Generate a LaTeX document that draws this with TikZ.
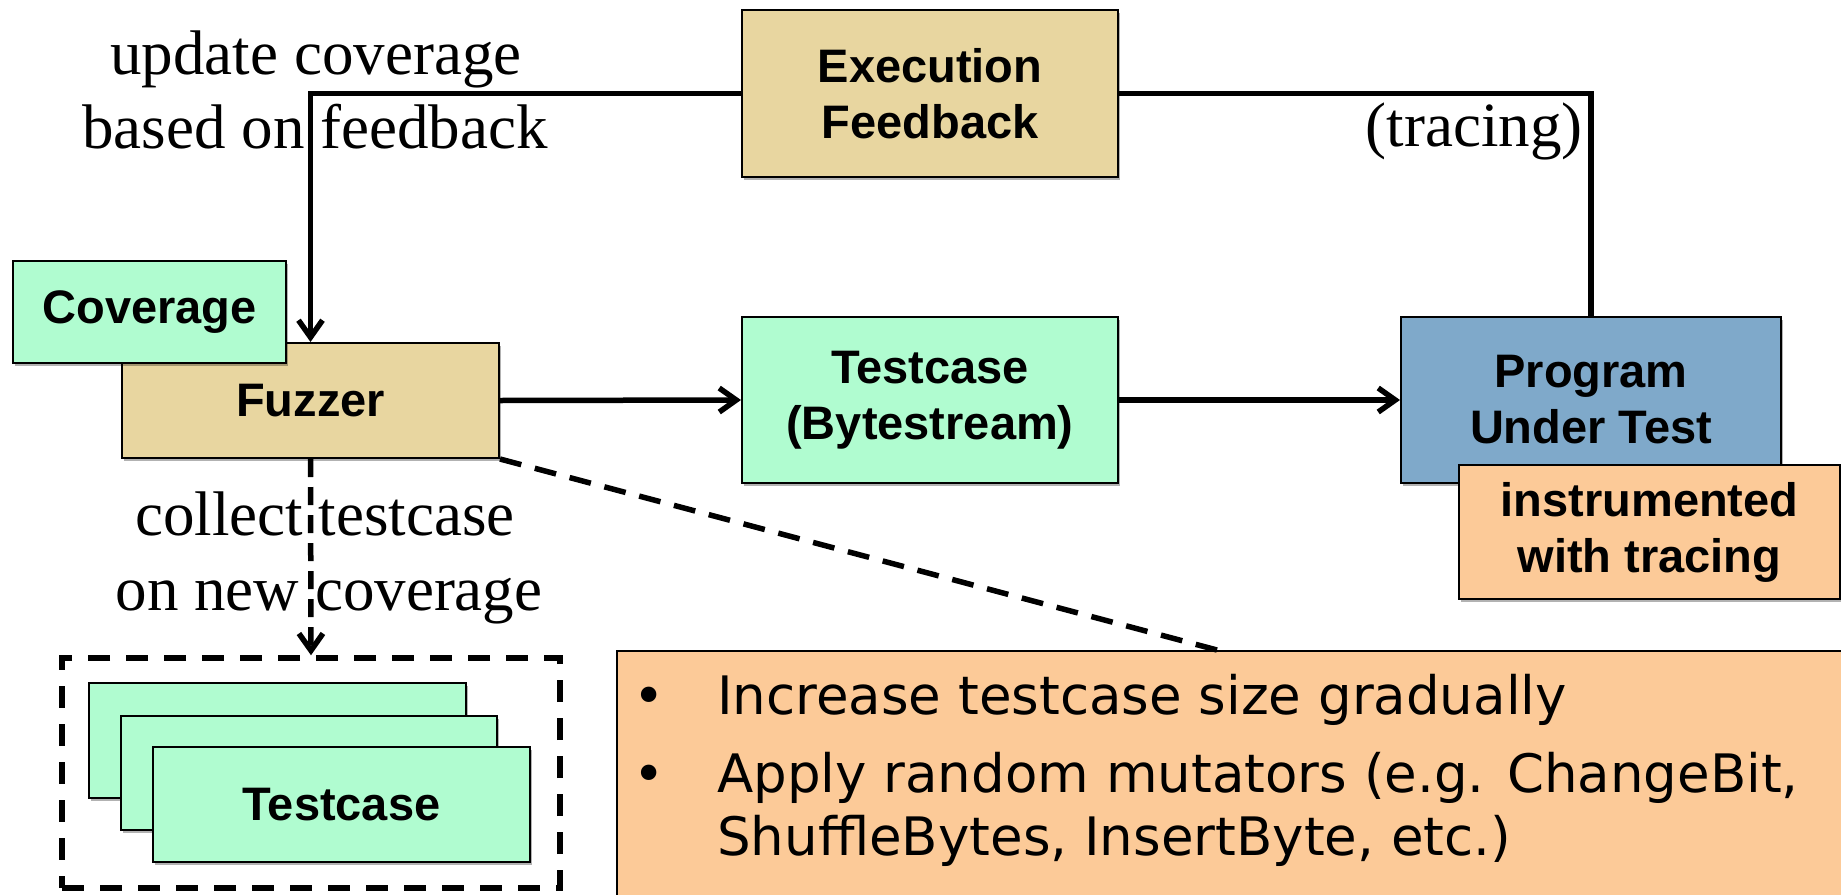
\documentclass[tikz,border=0pt]{standalone}
\usepackage{fontspec}
\setmainfont{Liberation Serif}
\newfontfamily\boxsans{Liberation Sans}
\newfontfamily\notesans{DejaVu Sans}
\usetikzlibrary{arrows.meta,shadows}

\definecolor{tanfill}{RGB}{232,214,160}
\definecolor{mintfill}{RGB}{176,252,208}
\definecolor{bluefill}{RGB}{127,169,202}
\definecolor{orangefill}{RGB}{252,202,152}

\tikzset{
  box/.style={draw=black, line width=2pt, inner sep=0pt, align=center,
    font=\boxsans\bfseries\fontsize{47}{56}\selectfont,
    drop shadow={shadow xshift=2pt, shadow yshift=-3pt, opacity=0.3, fill=black}},
  tanbox/.style={box, fill=tanfill},
  mintbox/.style={box, fill=mintfill},
  bluebox/.style={box, fill=bluefill},
  orangebox/.style={box, fill=orangefill},
  storebox/.style={draw=black, line width=5.5pt, dash pattern=on 22pt off 16pt, inner sep=0pt},
  flow/.style={line width=5.5pt, -{Straight Barb[length=17pt,width=24pt]}},
  plainline/.style={line width=5.5pt},
  dashline/.style={line width=5.5pt, dash pattern=on 22pt off 14pt},
  lbl/.style={font=\fontsize{63}{72}\selectfont, inner sep=0pt, anchor=base},
  notetext/.style={font=\notesans\fontsize{53}{63}\selectfont, inner sep=0pt, anchor=base west}
}

\begin{document}
\begin{tikzpicture}[x=1pt, y=-1pt]
\useasboundingbox (0,0) rectangle (1841,894);
\clip (0,0) rectangle (1841,894);

% main boxes
\node[tanbox, minimum width=376, minimum height=167] (exec) at (930,93.5) {Execution\\Feedback};
\node[mintbox, minimum width=376, minimum height=166] (tc) at (930,400) {Testcase\\(Bytestream)};
\node[bluebox, minimum width=380, minimum height=166] (put) at (1591,400) {Program\\Under Test};
\node[orangebox, minimum width=381, minimum height=134] (instr) at (1649.5,532) {instrumented\\with tracing};
\node[tanbox, minimum width=377, minimum height=115] (fuzz) at (310.5,400.5) {Fuzzer};
\node[mintbox, minimum width=273, minimum height=102] (cov) at (149.5,312) {Coverage};

% corpus of collected testcases
\node[storebox, minimum width=498, minimum height=230] (store) at (311,773) {};
\node[mintbox, minimum width=377, minimum height=115] (card1) at (277.5,740.5) {};
\node[mintbox, minimum width=376, minimum height=114] (card2) at (309,773) {};
\node[mintbox, minimum width=377, minimum height=115] (card3) at (341.5,804.5) {Testcase};

% mutation notes
\node[orangebox, anchor=north west, minimum width=1260, minimum height=270] (notes) at (616,650) {};
\coordinate (notehook) at (1217,650);
\node[notetext, anchor=base] (b1) at (649,714) {•};
\node[notetext] (t1) at (717,714) {Increase testcase size gradually};
\node[notetext, anchor=base] (b2) at (649,792) {•};
\node[notetext] (t2) at (717,792) {Apply random mutators (e.g. ChangeBit,};
\node[notetext] (t3) at (717,855) {ShuffleBytes, InsertByte, etc.)};

% connectors
\draw[plainline] (put.north) |- (exec.east);
\draw[flow] (exec.west) -| (fuzz.north);
\draw[flow] (fuzz.east) -- (tc.west);
\draw[flow] (tc.east) -- (put.west);
\draw[flow, dash pattern=on 18pt off 10pt] (fuzz.south) -- (store.north);
\draw[dashline] (fuzz.south east) -- (notehook);

% edge labels
\node[lbl] (upd1) at (316,74) {update coverage};
\node[lbl] (upd2) at (315,148) {based on feedback};
\node[lbl, anchor=base east] (trc) at (1583,146) {(tracing)};
\node[lbl] (col1) at (325,535) {collect testcase};
\node[lbl] (col2) at (329,610) {on new coverage};
\end{tikzpicture}
\end{document}
